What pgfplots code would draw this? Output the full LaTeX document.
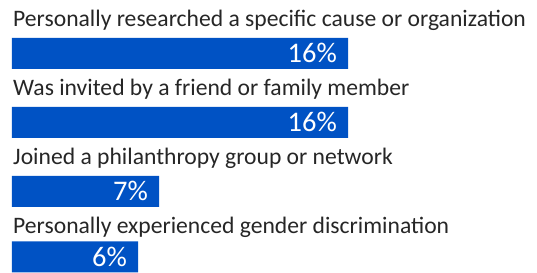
\documentclass[border=0pt]{standalone}
\usepackage{pgfplots}
\pgfplotsset{compat=1.18}
\usepackage{fontspec}
\setmainfont{Carlito}
\definecolor{barblue}{RGB}{0,82,196}
\definecolor{txt}{RGB}{38,38,38}
\begin{document}
\begin{tikzpicture}
\begin{axis}[
  scale only axis,
  width=537bp, height=273bp,
  xmin=-0.5714, xmax=25,
  ymin=0, ymax=273,
  hide axis,
  xbar,
  bar width=31bp,
  /pgf/number format/assume math mode=true,
  nodes near coords={\pgfmathprintnumber{\pgfplotspointmeta}\%},
  every node near coord/.append style={anchor=east, xshift=-11bp, yshift=0.5bp, text=white, font=\fontsize{28.5}{32}\selectfont, inner sep=0pt},
]
\addplot[draw=none, fill=barblue] coordinates {(16,219.5) (16,150.5) (7,81.5) (6,16)};
\path (rel axis cs:0,0) rectangle (rel axis cs:1,1);
\begin{scope}[every node/.style={anchor=base west, inner sep=0pt, text=txt, font=\fontsize{23.7}{28}\selectfont}]
\node at (axis cs:0.05,246) {Personally researched a specific cause or organization};
\node at (axis cs:0.05,177) {Was invited by a friend or family member};
\node at (axis cs:0.05,108) {Joined a philanthropy group or network};
\node at (axis cs:0.05,39) {Personally experienced gender discrimination};
\end{scope}
\end{axis}
\end{tikzpicture}
\end{document}
